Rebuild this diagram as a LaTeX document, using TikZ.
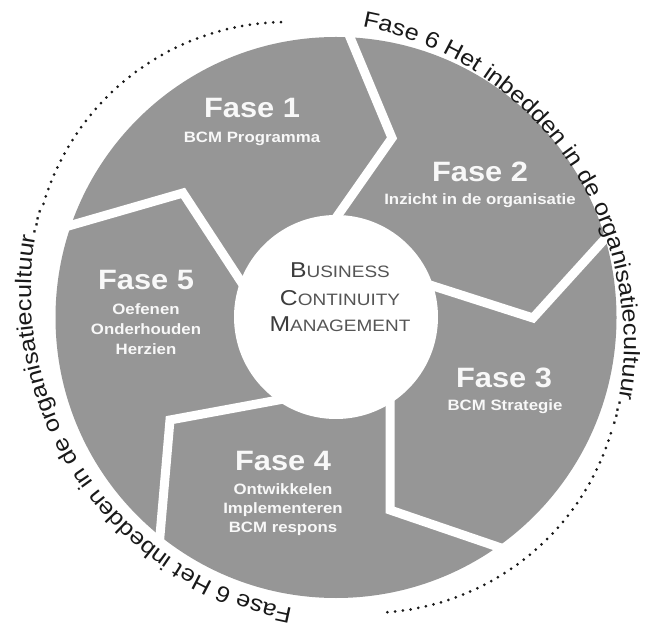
\documentclass[tikz,border=0pt]{standalone}
\usepackage{fontspec}
\setmainfont{Liberation Sans}
\newfontfamily\phasefont[FakeStretch=1.1]{Liberation Sans}
\newfontfamily\subfont[FakeStretch=1.12]{Liberation Sans}
\newfontfamily\centerfont[FakeStretch=1.15]{Liberation Sans}
\newfontfamily\ringfont[FakeStretch=1.12]{Liberation Sans}
\usetikzlibrary{decorations.text,calc}
\definecolor{diskgray}{RGB}{150,150,150}
\definecolor{phasetext}{RGB}{248,248,248}
\definecolor{centertext}{RGB}{85,85,85}
\definecolor{centerinit}{RGB}{60,60,60}
\definecolor{ringtext}{RGB}{25,25,25}
\tikzset{
  gapline/.style={white, line width=9pt, line join=miter, line cap=butt},
  dotline/.style={ringtext, line width=3pt, line cap=round, dash pattern=on 0pt off 7.8pt},
  phasehead/.style={anchor=base, text=phasetext, font=\phasefont\bfseries\fontsize{28}{30}\selectfont, inner sep=0pt},
  phasesub/.style={anchor=base, text=phasetext, font=\subfont\bfseries\fontsize{15}{17}\selectfont, inner sep=0pt},
  centerline/.style={anchor=base, text=centertext, font=\centerfont\fontsize{16.5}{18}\selectfont, inner sep=0pt},
}
\newcommand{\bigini}[1]{{\fontsize{21.5}{22}\selectfont\color{centerinit}#1}}
\begin{document}
\begin{tikzpicture}[x=1pt,y=1pt]
\useasboundingbox (0,0) rectangle (653,627);
\fill[white] (0,0) rectangle (653,627);
% gray disk
\fill[diskgray] (336,309.5) circle[radius=280.5];
% gaps between phases
\coordinate (o12) at (347,597); \coordinate (b12) at (392,489); \coordinate (i12) at (324,392);
\coordinate (o23) at (612,396); \coordinate (b23) at (533,309); \coordinate (i23) at (405,350);
\coordinate (o34) at (507,77);  \coordinate (b34) at (390,117); \coordinate (i34) at (390,247);
\coordinate (o45) at (159,80);  \coordinate (b45) at (170,207); \coordinate (i45) at (300,231);
\coordinate (o51) at (58,398);  \coordinate (b51) at (183,434); \coordinate (i51) at (255,324);
\draw[gapline] (o12) -- (b12) -- (i12);
\draw[gapline] (o23) -- (b23) -- (i23);
\draw[gapline] (o34) -- (b34) -- (i34);
\draw[gapline] (o45) -- (b45) -- (i45);
\draw[gapline] (o51) -- (b51) -- (i51);
% inner circle
\fill[white] (336,310) circle[radius=102];
% center text
\node[centerline] (bcm1) at (340,349) {\bigini{B}USINESS};
\node[centerline] (bcm2) at (340,321) {\bigini{C}ONTINUITY};
\node[centerline] (bcm3) at (340,295) {\bigini{M}ANAGEMENT};
% phases
\node[phasehead] (f1) at (252,509) {Fase 1};
\node[phasesub] (f1a) at (252,484) {BCM Programma};
\node[phasehead] (f2) at (480,445) {Fase 2};
\node[phasesub] (f2a) at (480,422) {Inzicht in de organisatie};
\node[phasehead] (f3) at (504,240) {Fase 3};
\node[phasesub] (f3a) at (505,216) {BCM Strategie};
\node[phasehead] (f4) at (283,157) {Fase 4};
\node[phasesub] (f4a) at (283,133) {Ontwikkelen};
\node[phasesub] (f4b) at (283,114) {Implementeren};
\node[phasesub] (f4c) at (283,95) {BCM respons};
\node[phasehead] (f5) at (146,337) {Fase 5};
\node[phasesub] (f5a) at (146,312) {Oefenen};
\node[phasesub] (f5b) at (146,292) {Onderhouden};
\node[phasesub] (f5c) at (146,272) {Herzien};
% outer ring texts
\path[decorate, decoration={text along path, text color=ringtext,
  text={|\ringfont\fontsize{22.5}{22}\selectfont|Fase 6 Het inbedden in de organisatiecultuur....},
  text align=fit to path}]
  ($(302,284)+(79.2:322)$) arc[start angle=79.2, end angle=-15, radius=322];
\draw[dotline] ($(368,268)+(-17:254)$) arc[start angle=-17, end angle=-86.8, radius=254];
\path[decorate, decoration={text along path, text color=ringtext,
  text={|\ringfont\fontsize{22.5}{22}\selectfont|Fase 6 Het inbedden in de organisatiecultuur....},
  text align=fit to path}]
  ($(353,335)+(259.2:322)$) arc[start angle=259.2, end angle=165, radius=322];
\draw[dotline] ($(287,351)+(163.5:254)$) arc[start angle=163.5, end angle=90, radius=254];
\end{tikzpicture}
\end{document}
